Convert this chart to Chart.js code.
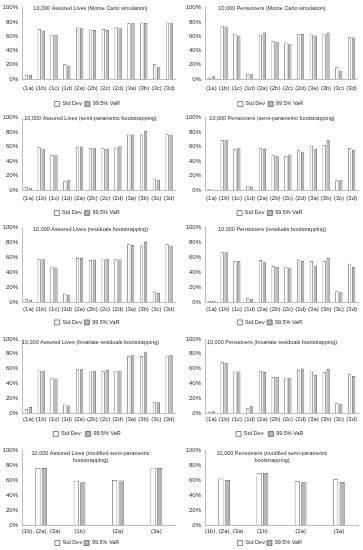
<!DOCTYPE html>
<html>
<head>
<meta charset="utf-8">
<script src="https://cdn.jsdelivr.net/npm/chart.js@4.4.1/dist/chart.umd.min.js"></script>
<style>
html,body{margin:0;padding:0;background:#fff;}
#wrap{position:relative;width:363px;height:550px;overflow:hidden;background:#fff;}
#wrap canvas{position:absolute;}
</style>
</head>
<body>
<div id="wrap"></div>
<script>
// ---------- data ----------
const categories = ['(1a)','(1b)','(1c)','(1d)','(2a)','(2b)','(2c)','(2d)','(3a)','(3b)','(3c)','(3d)'];
const categoriesModified = ['(1b), (2a), (3a)','(1b)','(2a)','(3a)'];
const yTicks = [0,20,40,60,80,100];
const seriesNames = ['Std Dev','99.5% VaR'];

const assuredMC_sd   = [6,70,62,21,72,69.5,70,72.5,78.5,79,20.5,79];
const assuredMC_var  = [6,68,62,19,71,68.5,68.5,71,78,78.5,16.5,78];
const pensionMC_sd   = [2,74.5,63.5,7.5,62,53,51,63.5,62.5,63.5,16.5,58.5];
const pensionMC_var  = [4,73.5,61,6.5,65,52,48.5,63,61,65,11.5,58];

const assuredSP_sd   = [4.5,59,48.5,12,60,58.5,57.5,58.5,76.5,76.5,16,77];
const assuredSP_var  = [2.5,57,48,13.5,60,57.5,56.5,61,76.5,82,14,75.5];
const pensionSP_sd   = [1,69,56.5,6,58.5,48,47,55,61,62,13.5,58];
const pensionSP_var  = [0.5,69.5,57.5,5,56.5,46.5,49,53,57,69,13.5,55.5];

const assuredRB_sd   = [4,57.5,47.5,11,59,56.5,57,57.5,77.5,76,14,77.5];
const assuredRB_var  = [3,57.5,46.5,10,59,57,58,57,76.5,80.5,12,76];
const pensionRB_sd   = [1.5,67,55,5,56.5,48.5,47.5,57,55,55,14.5,51.5];
const pensionRB_var  = [1.5,67,55,4.5,53.5,47,46.5,55,49,59,13,47.5];

const assuredBV_sd   = [5.5,57.5,47.5,11.5,59,56,56.5,57,77,77,14.5,77.5];
const assuredBV_var  = [8,57,46.5,10,59,57,58,57,78,82,14.5,78.5];
const pensionBV_sd   = [2,69,56,6.5,57,48.5,47.5,58,56,55.5,13.5,52.5];
const pensionBV_var  = [2.5,67.5,56,9,55.5,48.5,47.5,60,51.5,59.5,12.5,50];

const assuredMod_sd  = [76,59,60,76.5];
const assuredMod_var = [76,57,59.5,76];
const pensionMod_sd  = [62,69,58.5,61];
const pensionMod_var = [60,69.5,57,57.5];

const titles = [
  ['10,000 Assured Lives (Monte Carlo simulation)'],
  ['10,000 Pensioners (Monte Carlo simulation)'],
  ['10,000 Assured Lives (semi-parametric bootstrapping)'],
  ['10,000 Pensioners (semi-parametric bootstrapping)'],
  ['10,000 Assured Lives (residuals bootstrapping)'],
  ['10,000 Pensioners (residuals bootstrapping)'],
  ['10,000 Assured Lives (bivariate residuals bootstrapping)'],
  ['10,000 Pensioners (bivariate residuals bootstrapping)'],
  ['10,000 Assured Lives (modified semi-parametric','bootstrapping)'],
  ['10,000 Pensioners (modified semi-parametric','bootstrapping)']
];

const panelData = [
  [categories, assuredMC_sd, assuredMC_var],
  [categories, pensionMC_sd, pensionMC_var],
  [categories, assuredSP_sd, assuredSP_var],
  [categories, pensionSP_sd, pensionSP_var],
  [categories, assuredRB_sd, assuredRB_var],
  [categories, pensionRB_sd, pensionRB_var],
  [categories, assuredBV_sd, assuredBV_var],
  [categories, pensionBV_sd, pensionBV_var],
  [categoriesModified, assuredMod_sd, assuredMod_var],
  [categoriesModified, pensionMod_sd, pensionMod_var]
];

// ---------- layout ----------
const FONT = "'Liberation Sans', Arial, sans-serif";
const rowTop = [0,110,220,330,440];
const rowHeight = [110,110,110,110,110];
const plotTopAbs = [6,116,228,339,450];
const plotBottomAbs = [79,190,302,413,525];
const tickPad = [6,5,4,3,3];
const legendPad = [3,3,2.5,5,2];
const titleOffset = [1,1,2,3,3];
const colLeft = [0,181];
const colWidth = [181,182];
const plotLeftRel = [22,24];
const plotRightRel = [175.5,177];

const innerTitle = {
  id:'innerTitle',
  afterDraw(chart, args, opts){
    const {ctx, chartArea} = chart;
    ctx.save();
    ctx.font = '5.5px ' + FONT;
    ctx.fillStyle = '#2b2b2b';
    ctx.textAlign = 'center';
    ctx.textBaseline = 'middle';
    opts.lines.forEach((l,i)=>{
      ctx.fillText(l, chart.width/2, chartArea.top + opts.offset + i*7);
    });
    ctx.restore();
  }
};

const wrap = document.getElementById('wrap');
const charts = [];

panelData.forEach((pd, idx)=>{
  const row = Math.floor(idx/2), col = idx%2;
  const W = colWidth[col], H = rowHeight[row];
  const cv = document.createElement('canvas');
  cv.width = W; cv.height = H;
  cv.style.left = colLeft[col]+'px';
  cv.style.top = rowTop[row]+'px';
  cv.style.width = W+'px'; cv.style.height = H+'px';
  wrap.appendChild(cv);
  const few = pd[0].length < 6;
  const chart = new Chart(cv, {
    type:'bar',
    data:{
      labels: pd[0],
      datasets:[
        {label: seriesNames[0], data: pd[1], backgroundColor:'#ffffff', borderColor:'#5a5a5a', borderWidth:0.75,
         categoryPercentage: few?0.34:0.62, barPercentage: few?0.8:0.82},
        {label: seriesNames[1], data: pd[2], backgroundColor:'#b8b8b8', borderColor:'#5a5a5a', borderWidth:0.75,
         categoryPercentage: few?0.34:0.62, barPercentage: few?0.8:0.82}
      ]
    },
    options:{
      responsive:false,
      animation:false,
      devicePixelRatio:1,
      layout:{padding:{top:6,bottom:4,left:2,right:4}},
      plugins:{
        title:{display:false},
        tooltip:{enabled:false},
        legend:{
          display:true, position:'bottom',
          labels:{boxWidth:5, boxHeight:5, padding:legendPad[row], color:'#2b2b2b', font:{family:FONT,size:5.5}}
        },
        innerTitle:{lines: titles[idx], offset: titleOffset[row]}
      },
      scales:{
        x:{
          grid:{display:false, drawTicks:false},
          border:{display:true, color:'#a6a6a6', width:0.75},
          ticks:{color:'#2b2b2b', font:{family:FONT,size:6}, padding:tickPad[row], maxRotation:0, autoSkip:false}
        },
        y:{
          min:0, max:100,
          grid:{display:false, drawTicks:false},
          border:{display:true, color:'#a6a6a6', width:0.75},
          afterBuildTicks(scale){ scale.ticks = yTicks.map(v=>({value:v})); },
          ticks:{color:'#2b2b2b', font:{family:FONT,size:6}, padding:4, callback:v=>v+'%'}
        }
      }
    },
    plugins:[innerTitle]
  });
  // align plot area to the reference frame
  const t = {top: plotTopAbs[row]-rowTop[row], bottom: plotBottomAbs[row]-rowTop[row],
             left: plotLeftRel[col], right: plotRightRel[col]};
  for(let k=0;k<3;k++){
    const a = chart.chartArea, p = chart.options.layout.padding;
    p.top += t.top - a.top;
    p.bottom += a.bottom - t.bottom;
    p.left += t.left - a.left;
    p.right += a.right - t.right;
    chart.update('none');
  }
  charts.push(chart);
});
</script>
</body>
</html>
